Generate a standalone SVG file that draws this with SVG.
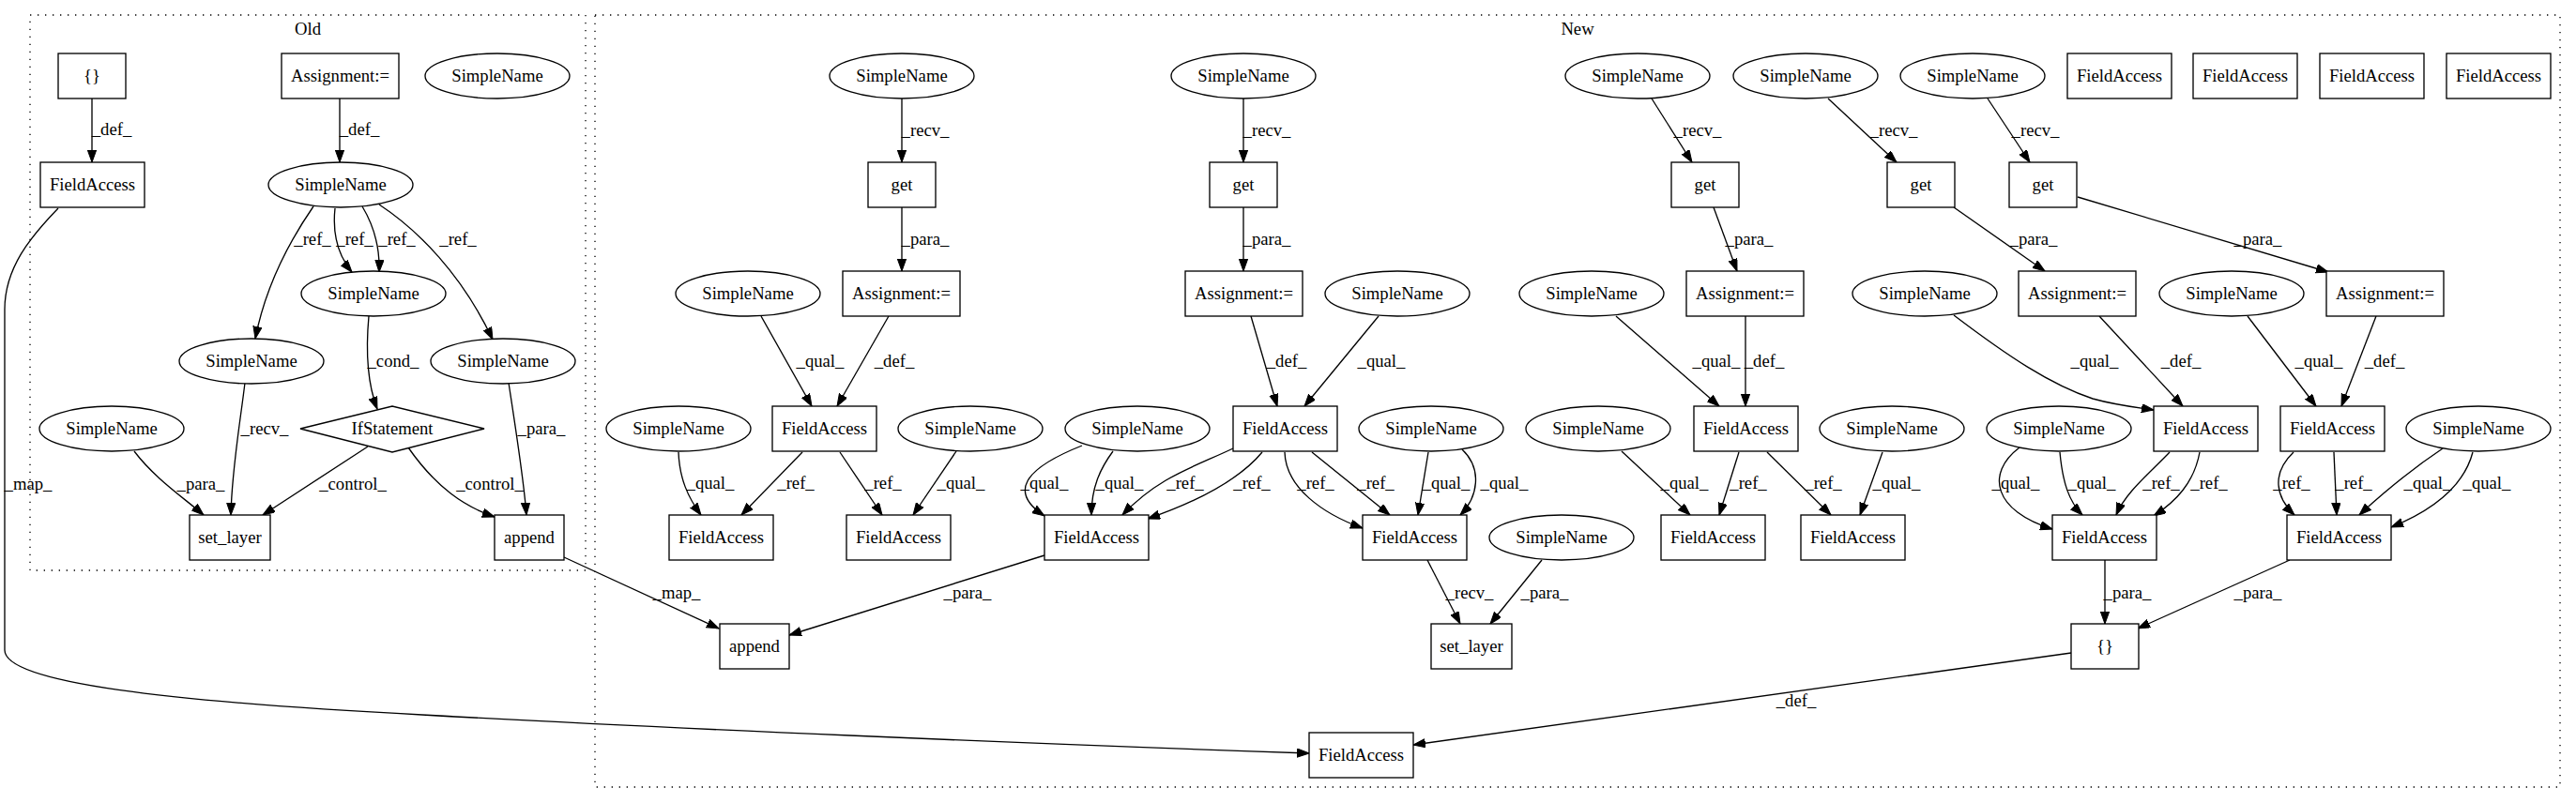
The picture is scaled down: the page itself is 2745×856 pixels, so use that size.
<svg xmlns="http://www.w3.org/2000/svg" width="2745" height="856" viewBox="0 0 2745 856">
<style>
text{font-family:"Liberation Serif","Times New Roman",serif;font-size:18.67px;fill:#000;text-anchor:middle}
.n rect,.n ellipse,.n polygon{fill:#fff;stroke:#000;stroke-width:1.33}
.cl{fill:none;stroke:#000;stroke-width:1.33;stroke-dasharray:1.33,6.67}
#edges path{fill:none;stroke:#000;stroke-width:1.33;marker-end:url(#ah)}
</style>
<defs>
<marker id="ah" markerWidth="14" markerHeight="10" refX="13" refY="4.67" orient="auto" markerUnits="userSpaceOnUse"><path d="M0,0 L13,4.67 L0,9.33 z" fill="#000" stroke="#000" stroke-width="1"/></marker>
</defs>
<rect width="2745" height="856" fill="#fff"/>
<g id="clusters">
<rect class="cl" x="32" y="16" width="592" height="592"/>
<text x="328" y="37">Old</text>
<rect class="cl" x="634" y="16" width="2094" height="823"/>
<text x="1681" y="37">New</text>
</g>
<g id="edges">
<path d="M98,105 L98,173"/>
<path d="M362,105 L362,173"/>
<path d="M334,220 C305,262 282,310 272,361"/>
<path d="M357,222 C354,250 360,272 375,290"/>
<path d="M386,220 C398,240 405,262 404,290"/>
<path d="M404,218 C445,245 492,292 525,362"/>
<path d="M393,337 C390,370 390,405 402,436"/>
<path d="M261,408 C256,450 247,500 246,549"/>
<path d="M143,481 C165,510 195,530 217,549"/>
<path d="M392,476 L280,549"/>
<path d="M435,477 C465,520 495,540 527,551"/>
<path d="M542,408 C550,460 558,510 561,549"/>
<path d="M62,222 C33,252 5,285 5,330 L5,693 C5,728 180,748 450,762 C700,776 1100,793 1395,803"/>
<path d="M601,594 L766,670"/>
<path d="M961,105 L961,173"/>
<path d="M961,221 L961,289"/>
<path d="M947,337 L892,433"/>
<path d="M811,337 L865,433"/>
<path d="M855,482 L790,549"/>
<path d="M895,482 L940,549"/>
<path d="M723,482 C724,510 733,530 747,549"/>
<path d="M1019,481 L973,549"/>
<path d="M1325,105 L1325,173"/>
<path d="M1325,221 L1325,289"/>
<path d="M1333,337 L1361,433"/>
<path d="M1469,337 L1390,433"/>
<path d="M1314,478 C1272,498 1235,508 1196,549"/>
<path d="M1345,482 C1320,512 1275,535 1223,553"/>
<path d="M1153,475 C1090,500 1075,525 1113,550"/>
<path d="M1186,481 C1172,500 1163,520 1163,549"/>
<path d="M1369,482 C1370,520 1410,548 1452,563"/>
<path d="M1398,482 L1481,549"/>
<path d="M1522,482 L1511,549"/>
<path d="M1558,479 C1580,500 1575,530 1556,549"/>
<path d="M1113,592 L841,677"/>
<path d="M1521,597 L1556,665"/>
<path d="M1643,597 L1588,665"/>
<path d="M1760,105 L1803,173"/>
<path d="M1826,221 L1851,289"/>
<path d="M1860,337 L1860,433"/>
<path d="M1722,337 L1832,433"/>
<path d="M1853,482 L1832,549"/>
<path d="M1883,482 L1951,549"/>
<path d="M1728,481 L1801,549"/>
<path d="M2006,482 L1982,549"/>
<path d="M1948,105 L2021,173"/>
<path d="M2082,221 L2179,289"/>
<path d="M2237,337 L2326,433"/>
<path d="M2082,336 C2140,380 2185,410 2230,425 C2255,432 2275,434 2295,437"/>
<path d="M2152,477 C2115,505 2125,545 2187,564"/>
<path d="M2195,482 C2198,515 2205,535 2219,549"/>
<path d="M2312,482 C2290,505 2265,525 2255,549"/>
<path d="M2344,482 C2338,515 2318,535 2295,550"/>
<path d="M2243,597 L2243,665"/>
<path d="M2118,105 L2163,173"/>
<path d="M2214,210 L2481,290"/>
<path d="M2532,337 L2495,433"/>
<path d="M2395,337 L2468,433"/>
<path d="M2444,482 C2420,505 2425,530 2445,549"/>
<path d="M2487,482 L2490,549"/>
<path d="M2603,478 C2570,500 2540,525 2514,549"/>
<path d="M2635,482 C2625,520 2590,545 2548,562"/>
<path d="M2440,597 L2278,670"/>
<path d="M2207,696 L1506,794"/>
</g>
<g id="edge-labels">
<text x="119" y="144">_def_</text>
<text x="383" y="144">_def_</text>
<text x="333" y="261">_ref_</text>
<text x="378" y="261">_ref_</text>
<text x="423" y="261">_ref_</text>
<text x="488" y="261">_ref_</text>
<text x="419" y="391">_cond_</text>
<text x="282" y="463">_recv_</text>
<text x="577" y="463">_para_</text>
<text x="214" y="522">_para_</text>
<text x="376" y="522">_control_</text>
<text x="522" y="522">_control_</text>
<text x="30" y="522">_map_</text>
<text x="721" y="638">_map_</text>
<text x="986" y="145">_recv_</text>
<text x="1350" y="145">_recv_</text>
<text x="1809" y="145">_recv_</text>
<text x="2018" y="145">_recv_</text>
<text x="2169" y="145">_recv_</text>
<text x="986" y="261">_para_</text>
<text x="1350" y="261">_para_</text>
<text x="1864" y="261">_para_</text>
<text x="2167" y="261">_para_</text>
<text x="2406" y="261">_para_</text>
<text x="874" y="391">_qual_</text>
<text x="1472" y="391">_qual_</text>
<text x="1829" y="391">_qual_</text>
<text x="2232" y="391">_qual_</text>
<text x="2471" y="391">_qual_</text>
<text x="953" y="391">_def_</text>
<text x="1371" y="391">_def_</text>
<text x="1880" y="391">_def_</text>
<text x="2324" y="391">_def_</text>
<text x="2541" y="391">_def_</text>
<text x="757" y="521">_qual_</text>
<text x="848" y="521">_ref_</text>
<text x="941" y="521">_ref_</text>
<text x="1024" y="521">_qual_</text>
<text x="1113" y="521">_qual_</text>
<text x="1193" y="521">_qual_</text>
<text x="1263" y="521">_ref_</text>
<text x="1334" y="521">_ref_</text>
<text x="1402" y="521">_ref_</text>
<text x="1466" y="521">_ref_</text>
<text x="1541" y="521">_qual_</text>
<text x="1603" y="521">_qual_</text>
<text x="1795" y="521">_qual_</text>
<text x="1863" y="521">_ref_</text>
<text x="1943" y="521">_ref_</text>
<text x="2021" y="521">_qual_</text>
<text x="2148" y="521">_qual_</text>
<text x="2229" y="521">_qual_</text>
<text x="2303" y="521">_ref_</text>
<text x="2354" y="521">_ref_</text>
<text x="2442" y="521">_ref_</text>
<text x="2508" y="521">_ref_</text>
<text x="2587" y="521">_qual_</text>
<text x="2650" y="521">_qual_</text>
<text x="1031" y="638">_para_</text>
<text x="1566" y="638">_recv_</text>
<text x="1646" y="638">_para_</text>
<text x="2267" y="638">_para_</text>
<text x="2406" y="638">_para_</text>
<text x="1914" y="753">_def_</text>
</g>
<g id="o_brace" class="n"><rect x="62" y="57" width="72" height="48"/><text x="98" y="87">{}</text></g>
<g id="o_assign" class="n"><rect x="300" y="57" width="125" height="48"/><text x="362.5" y="87">Assignment:=</text></g>
<g id="o_sn_iso" class="n"><ellipse cx="530" cy="81" rx="77" ry="24"/><text x="530" y="87">SimpleName</text></g>
<g id="o_fa" class="n"><rect x="43" y="173" width="111" height="48"/><text x="98.5" y="203">FieldAccess</text></g>
<g id="o_sn_main" class="n"><ellipse cx="363" cy="197" rx="77" ry="24"/><text x="363" y="203">SimpleName</text></g>
<g id="o_sn_mid" class="n"><ellipse cx="398" cy="313" rx="77" ry="24"/><text x="398" y="319">SimpleName</text></g>
<g id="o_sn_left" class="n"><ellipse cx="268" cy="385" rx="77" ry="24"/><text x="268" y="391">SimpleName</text></g>
<g id="o_sn_right" class="n"><ellipse cx="536" cy="385" rx="77" ry="24"/><text x="536" y="391">SimpleName</text></g>
<g id="o_sn_para" class="n"><ellipse cx="119" cy="457" rx="77" ry="24"/><text x="119" y="463">SimpleName</text></g>
<g id="o_if" class="n"><polygon points="320,457 418,433 516,457 418,482"/><text x="418" y="463">IfStatement</text></g>
<g id="o_set_layer" class="n"><rect x="202" y="549" width="86" height="48"/><text x="245" y="579">set_layer</text></g>
<g id="o_append" class="n"><rect x="527" y="549" width="74" height="48"/><text x="564" y="579">append</text></g>
<g id="n_sn_a1" class="n"><ellipse cx="961" cy="81" rx="77" ry="24"/><text x="961" y="87">SimpleName</text></g>
<g id="n_sn_b1" class="n"><ellipse cx="1325" cy="81" rx="77" ry="24"/><text x="1325" y="87">SimpleName</text></g>
<g id="n_sn_c1" class="n"><ellipse cx="1745" cy="81" rx="77" ry="24"/><text x="1745" y="87">SimpleName</text></g>
<g id="n_sn_d1" class="n"><ellipse cx="1924" cy="81" rx="77" ry="24"/><text x="1924" y="87">SimpleName</text></g>
<g id="n_sn_e1" class="n"><ellipse cx="2102" cy="81" rx="77" ry="24"/><text x="2102" y="87">SimpleName</text></g>
<g id="n_fa_iso1" class="n"><rect x="2203" y="57" width="111" height="48"/><text x="2258.5" y="87">FieldAccess</text></g>
<g id="n_fa_iso2" class="n"><rect x="2337" y="57" width="111" height="48"/><text x="2392.5" y="87">FieldAccess</text></g>
<g id="n_fa_iso3" class="n"><rect x="2472" y="57" width="111" height="48"/><text x="2527.5" y="87">FieldAccess</text></g>
<g id="n_fa_iso4" class="n"><rect x="2607" y="57" width="111" height="48"/><text x="2662.5" y="87">FieldAccess</text></g>
<g id="n_get_a" class="n"><rect x="925" y="173" width="72" height="48"/><text x="961" y="203">get</text></g>
<g id="n_get_b" class="n"><rect x="1289" y="173" width="72" height="48"/><text x="1325" y="203">get</text></g>
<g id="n_get_c" class="n"><rect x="1781" y="173" width="72" height="48"/><text x="1817" y="203">get</text></g>
<g id="n_get_d" class="n"><rect x="2011" y="173" width="72" height="48"/><text x="2047" y="203">get</text></g>
<g id="n_get_e" class="n"><rect x="2141" y="173" width="72" height="48"/><text x="2177" y="203">get</text></g>
<g id="n_sn_qa" class="n"><ellipse cx="797" cy="313" rx="77" ry="24"/><text x="797" y="319">SimpleName</text></g>
<g id="n_asg_a" class="n"><rect x="898" y="289" width="125" height="48"/><text x="960.5" y="319">Assignment:=</text></g>
<g id="n_asg_b" class="n"><rect x="1263" y="289" width="125" height="48"/><text x="1325.5" y="319">Assignment:=</text></g>
<g id="n_sn_qb" class="n"><ellipse cx="1489" cy="313" rx="77" ry="24"/><text x="1489" y="319">SimpleName</text></g>
<g id="n_sn_qc" class="n"><ellipse cx="1696" cy="313" rx="77" ry="24"/><text x="1696" y="319">SimpleName</text></g>
<g id="n_asg_c" class="n"><rect x="1797" y="289" width="125" height="48"/><text x="1859.5" y="319">Assignment:=</text></g>
<g id="n_sn_qd" class="n"><ellipse cx="2051" cy="313" rx="77" ry="24"/><text x="2051" y="319">SimpleName</text></g>
<g id="n_asg_d" class="n"><rect x="2151" y="289" width="125" height="48"/><text x="2213.5" y="319">Assignment:=</text></g>
<g id="n_sn_qe" class="n"><ellipse cx="2378" cy="313" rx="77" ry="24"/><text x="2378" y="319">SimpleName</text></g>
<g id="n_asg_e" class="n"><rect x="2479" y="289" width="125" height="48"/><text x="2541.5" y="319">Assignment:=</text></g>
<g id="n_sn_r1" class="n"><ellipse cx="723" cy="457" rx="77" ry="24"/><text x="723" y="463">SimpleName</text></g>
<g id="n_fa_a" class="n"><rect x="823" y="433" width="111" height="48"/><text x="878.5" y="463">FieldAccess</text></g>
<g id="n_sn_r2" class="n"><ellipse cx="1034" cy="457" rx="77" ry="24"/><text x="1034" y="463">SimpleName</text></g>
<g id="n_sn_r3" class="n"><ellipse cx="1212" cy="457" rx="77" ry="24"/><text x="1212" y="463">SimpleName</text></g>
<g id="n_fa_b" class="n"><rect x="1314" y="433" width="111" height="48"/><text x="1369.5" y="463">FieldAccess</text></g>
<g id="n_sn_r4" class="n"><ellipse cx="1525" cy="457" rx="77" ry="24"/><text x="1525" y="463">SimpleName</text></g>
<g id="n_sn_r5" class="n"><ellipse cx="1703" cy="457" rx="77" ry="24"/><text x="1703" y="463">SimpleName</text></g>
<g id="n_fa_c" class="n"><rect x="1805" y="433" width="111" height="48"/><text x="1860.5" y="463">FieldAccess</text></g>
<g id="n_sn_r6" class="n"><ellipse cx="2016" cy="457" rx="77" ry="24"/><text x="2016" y="463">SimpleName</text></g>
<g id="n_sn_r7" class="n"><ellipse cx="2194" cy="457" rx="77" ry="24"/><text x="2194" y="463">SimpleName</text></g>
<g id="n_fa_d" class="n"><rect x="2295" y="433" width="111" height="48"/><text x="2350.5" y="463">FieldAccess</text></g>
<g id="n_fa_e" class="n"><rect x="2430" y="433" width="111" height="48"/><text x="2485.5" y="463">FieldAccess</text></g>
<g id="n_sn_r8" class="n"><ellipse cx="2641" cy="457" rx="77" ry="24"/><text x="2641" y="463">SimpleName</text></g>
<g id="n_fa_a1" class="n"><rect x="713" y="549" width="111" height="48"/><text x="768.5" y="579">FieldAccess</text></g>
<g id="n_fa_a2" class="n"><rect x="902" y="549" width="111" height="48"/><text x="957.5" y="579">FieldAccess</text></g>
<g id="n_fa_b1" class="n"><rect x="1113" y="549" width="111" height="48"/><text x="1168.5" y="579">FieldAccess</text></g>
<g id="n_fa_b2" class="n"><rect x="1452" y="549" width="111" height="48"/><text x="1507.5" y="579">FieldAccess</text></g>
<g id="n_sn_s" class="n"><ellipse cx="1664" cy="573" rx="77" ry="24"/><text x="1664" y="579">SimpleName</text></g>
<g id="n_fa_c1" class="n"><rect x="1770" y="549" width="111" height="48"/><text x="1825.5" y="579">FieldAccess</text></g>
<g id="n_fa_c2" class="n"><rect x="1919" y="549" width="111" height="48"/><text x="1974.5" y="579">FieldAccess</text></g>
<g id="n_fa_d1" class="n"><rect x="2187" y="549" width="111" height="48"/><text x="2242.5" y="579">FieldAccess</text></g>
<g id="n_fa_e1" class="n"><rect x="2437" y="549" width="111" height="48"/><text x="2492.5" y="579">FieldAccess</text></g>
<g id="n_append" class="n"><rect x="767" y="665" width="74" height="48"/><text x="804" y="695">append</text></g>
<g id="n_set_layer" class="n"><rect x="1525" y="665" width="86" height="48"/><text x="1568" y="695">set_layer</text></g>
<g id="n_brace" class="n"><rect x="2207" y="665" width="72" height="48"/><text x="2243" y="695">{}</text></g>
<g id="n_fa_bottom" class="n"><rect x="1395" y="781" width="111" height="48"/><text x="1450.5" y="811">FieldAccess</text></g>
</svg>
